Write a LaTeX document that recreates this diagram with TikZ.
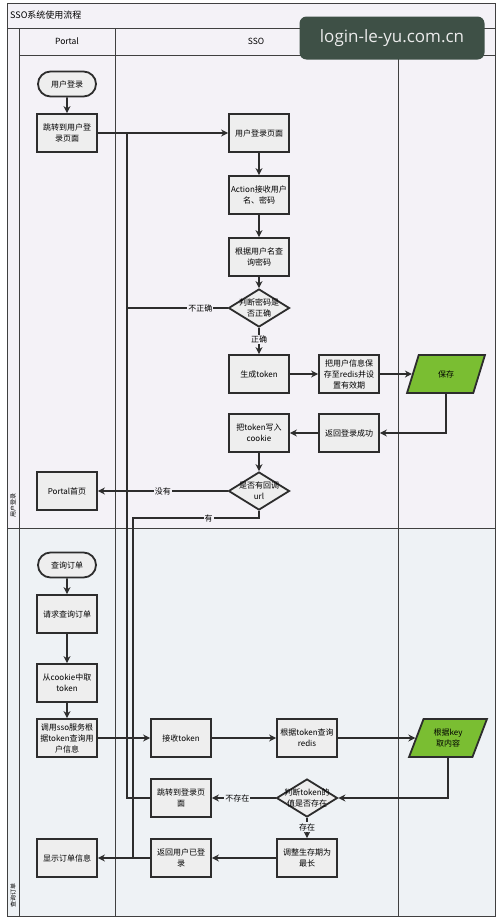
\documentclass[tikz,border=0pt]{standalone}
\usepackage{fontspec}
\newfontfamily\cjk{Noto Sans CJK SC}
\newfontfamily\wmfont{Open Sans}
\usetikzlibrary{arrows.meta,shapes.geometric,shapes.misc}
\definecolor{bgc}{RGB}{244,242,247}
\definecolor{bgc2}{RGB}{238,242,245}
\definecolor{boxc}{RGB}{238,238,238}
\definecolor{grn}{RGB}{122,190,50}
\definecolor{wmc}{RGB}{62,80,70}
\definecolor{ln}{RGB}{45,45,45}
\begin{document}
\begin{tikzpicture}[x=1pt,y=-1pt,
 box/.style={draw=ln, line width=1.8pt, fill=boxc, minimum width=60pt, minimum height=38pt, align=center, inner sep=1pt, font=\cjk\fontsize{8}{11}\selectfont},
 term/.style={box, rounded rectangle, minimum height=25pt},
 dec/.style={diamond, draw=ln, line width=1.8pt, fill=boxc, minimum width=61pt, minimum height=38pt, inner sep=0pt},
 dtext/.style={align=center, inner sep=0pt, font=\cjk\fontsize{8}{11}\selectfont},
 io/.style={trapezium, trapezium left angle=65, trapezium right angle=115, trapezium stretches=true, draw=ln, line width=1.8pt, fill=grn, minimum width=78pt, minimum height=38pt, align=center, inner sep=0pt, font=\cjk\fontsize{8}{11}\selectfont},
 arr/.style={draw=ln, line width=1.7pt, -{Stealth[length=7pt,width=7pt]}},
 lin/.style={draw=ln, line width=1.7pt},
 lbl/.style={fill=bgc, inner sep=1pt, font=\cjk\fontsize{8}{9}\selectfont},
 lane/.style={draw=black!75, line width=0.7pt},
 hdr/.style={font=\cjk\fontsize{8.5}{10}\selectfont},
 rowlbl/.style={rotate=90, font=\cjk\fontsize{6}{7}\selectfont, inner sep=0pt}]
\useasboundingbox (0,0) rectangle (500,921);
\fill[white] (0,0) rectangle (500,921);
\fill[bgc] (7,3) rectangle (495,528);
\fill[bgc2] (7,528) rectangle (495,916);
\draw[lane] (7,3) rectangle (495,916);
\draw[lane] (7,28) -- (495,28);
\draw[lane] (19,28) -- (19,916);
\draw[lane] (115,28) -- (115,916);
\draw[lane] (398,28) -- (398,916);
\draw[lane] (19,55) -- (495,55);
\draw[lane] (7,528) -- (495,528);

\node[anchor=west, font=\cjk\fontsize{9}{11}\selectfont, inner sep=0pt] (title) at (10,15) {SSO系统使用流程};
\node[hdr] (hportal) at (67,41) {Portal};
\node[hdr] (hsso) at (256,41) {SSO};
\node[rowlbl] (r1) at (13,505) {用户登录};
\node[rowlbl] (r2) at (13,895) {查询订单};

% Portal lane, row 1
\node[term] (start1) at (67,84) {用户登录};
\node[box] (jump1) at (67,133) {跳转到用户登\\录页面};
\node[box] (phome) at (67,491) {Portal首页};
% SSO lane, row 1
\node[box] (loginpage) at (259,133) {用户登录页面};
\node[box] (action) at (259,195) {Action接收用户\\名、密码};
\node[box] (query) at (259,257) {根据用户名查\\询密码};
\node[dec] (chk) at (259,308) {};
\node[dtext] at (chk) {判断密码是\\否正确};
\node[box] (gen) at (259,374) {生成token};
\node[box] (save) at (349,374) {把用户信息保\\存至redis并设\\置有效期};
\node[io] (store) at (446,374) {保存};
\node[box] (ret) at (349,433) {返回登录成功};
\node[box] (cookie) at (259,433) {把token写入\\cookie};
\node[dec] (cb) at (259,491) {};
\node[dtext] at (cb) {是否有回调\\url};

% row 2
\node[term] (start2) at (67,565) {查询订单};
\node[box] (req) at (67,614) {请求查询订单};
\node[box] (fromck) at (67,683) {从cookie中取\\token};
\node[box] (call) at (67,738) {调用sso服务根\\据token查询用\\户信息};
\node[box] (show) at (67,858) {显示订单信息};
\node[box] (recv) at (181,738) {接收token};
\node[box] (qredis) at (307,738) {根据token查询\\redis};
\node[io] (fetch) at (448,738) {根据key\\取内容};
\node[dec] (exist) at (307,798) {};
\node[dtext] at (exist) {判断token的\\值是否存在};
\node[box] (jump2) at (181,798) {跳转到登录页\\面};
\node[box] (extend) at (307,858) {调整生存期为\\最长};
\node[box] (logged) at (181,858) {返回用户已登\\录};

\coordinate (j1) at (127,133);
\coordinate (j2) at (133,518);

% connectors row 1
\draw[arr] (start1) -- (jump1);
\draw[arr] (jump1) -- (loginpage);
\draw[arr] (loginpage) -- (action);
\draw[arr] (action) -- (query);
\draw[arr] (query) -- (chk);
\draw[arr] (chk) -- node[lbl, pos=0.45]{正确} (gen);
\draw[lin] (chk.west) -- node[lbl, pos=0.27]{不正确} (chk.west -| j1) -- (j1);
\draw[arr] (gen) -- (save);
\draw[arr] (save) -- (store.west |- save);
\draw[arr] (store.south) |- (ret.east);
\draw[arr] (ret) -- (cookie);
\draw[arr] (cookie) -- (cb);
\draw[arr] (cb.west) -- node[lbl, pos=0.5]{没有} (phome.east);
\draw[lin] (cb.south) |- node[lbl, pos=0.7]{有} (j2) -- (logged.west -| j2);

% connectors row 2
\draw[arr] (start2) -- (req);
\draw[arr] (req) -- (fromck);
\draw[arr] (fromck) -- (call);
\draw[arr] (call) -- (recv);
\draw[arr] (recv) -- (qredis);
\draw[arr] (qredis) -- (fetch.west |- qredis);
\draw[arr] (fetch.south) |- (exist.east);
\draw[arr] (exist) -- node[lbl, fill=bgc2, pos=0.6]{不存在} (jump2);
\draw[lin] (jump2.west) -- (jump2.west -| j1) -- (j1);
\draw[arr] (exist) -- node[lbl, fill=bgc2, pos=0.45]{存在} (extend);
\draw[arr] (extend) -- (logged);
\draw[arr] (logged) -- (show);

% watermark
\node[fill=wmc, rounded corners=7pt, text=white!92!black, minimum width=185pt, minimum height=43pt, inner sep=0pt, font=\wmfont\fontsize{17}{20}\selectfont] (wm) at (392,38) {login-le-yu.com.cn};
\end{tikzpicture}
\end{document}
